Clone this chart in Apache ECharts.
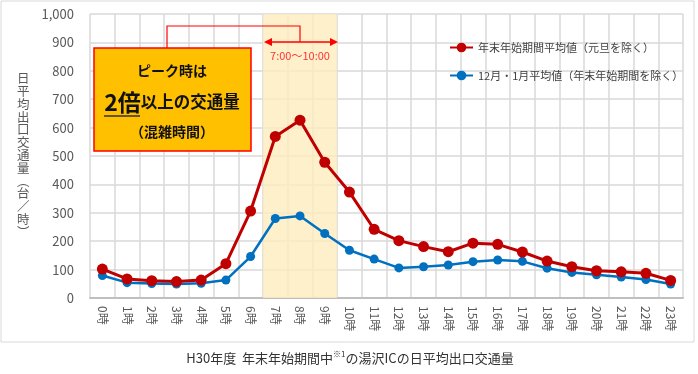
<!DOCTYPE html>
<html><head><meta charset="utf-8">
<script src="https://cdn.jsdelivr.net/npm/echarts@6/dist/echarts.min.js"></script>
<style>html,body{margin:0;padding:0;background:#fff}#c{width:698px;height:374px}</style>
</head><body><div id="c"></div>
<script>
const hours = ['0時','1時','2時','3時','4時','5時','6時','7時','8時','9時','10時','11時','12時','13時','14時','15時','16時','17時','18時','19時','20時','21時','22時','23時'];
const holidayAvg = [102,67,61,58,63,121,306,569,626,478,373,242,202,181,163,193,189,162,130,110,96,92,87,62];
const normalAvg = [79,54,51,49,52,63,146,280,289,227,168,137,106,110,116,128,134,129,105,90,82,74,65,49];
const seriesNames = ['年末年始期間平均値（元旦を除く）','12月・1月平均値（年末年始期間を除く）'];
const yTicks = [0,100,200,300,400,500,600,700,800,900,1000];
const peakStart = 7, peakEnd = 10;
const FONT = '"Noto Sans CJK JP","Noto Sans",sans-serif';

const chart = echarts.init(document.getElementById('c'));
const yLabel = '日平均出口交通量︵台／時︶'.split('').join('\n');
chart.setOption({
  animation:false,
  textStyle:{fontFamily:FONT},
  grid:{left:90,right:15,top:14,bottom:76},
  xAxis:[{type:'category',data:hours,boundaryGap:true,
    axisLine:{lineStyle:{color:'#bfbfbf',width:2}},
    axisTick:{show:false},
    splitLine:{show:true,interval:0,lineStyle:{color:'#d9d9d9',width:1.5}},
    axisLabel:{rotate:-90,interval:0,color:'#595959',fontSize:12,margin:8,fontFamily:FONT}},
    {type:'value',min:0,max:24,show:false}],
  yAxis:{type:'value',min:0,max:1000,interval:100,
    axisLine:{show:false},axisTick:{show:false},
    splitLine:{lineStyle:{color:'#d9d9d9',width:1.5}},
    axisLabel:{color:'#595959',fontSize:13,margin:16,fontFamily:FONT,
      formatter:v=>yTicks.includes(v)?v.toLocaleString('en-US'):''}},
  legend:{show:true,orient:'vertical',left:444,top:37,itemGap:17,itemWidth:23,itemHeight:12,
    textStyle:{fontSize:11,color:'#404040',fontFamily:FONT},
    data:[seriesNames[0],seriesNames[1]]},
  series:[
    {type:'line',xAxisIndex:1,data:[],silent:true,z:1,
     markArea:{silent:true,itemStyle:{color:'rgba(253,236,190,0.8)'},
       data:[[{xAxis:peakStart},{xAxis:peakEnd}]]}},
    {name:seriesNames[0],type:'line',data:holidayAvg,symbol:'circle',symbolSize:11,
     lineStyle:{color:'#C00000',width:3},itemStyle:{color:'#C00000'},z:3},
    {name:seriesNames[1],type:'line',data:normalAvg,symbol:'circle',symbolSize:9,
     lineStyle:{color:'#0070C0',width:2.5},itemStyle:{color:'#0070C0'},z:2}
  ],
  graphic:[
    {type:'rect',z:1,shape:{x:1,y:1,width:693,height:341},style:{fill:'none',stroke:'#d9d9d9',lineWidth:1},silent:true},
    {type:'text',z:5,left:17,top:72,style:{text:yLabel,fontSize:12.5,lineHeight:12.8,fill:'#595959',fontFamily:FONT,align:'center'}},
    {type:'polyline',z:5,shape:{points:[[167,48],[167,26],[300,26],[300,42]]},style:{stroke:'#FF0000',lineWidth:1.2,fill:'none'}},
    {type:'line',z:5,shape:{x1:268,y1:42,x2:334,y2:42},style:{stroke:'#FF0000',lineWidth:1.5}},
    {type:'polygon',z:5,shape:{points:[[264,42],[272,38],[272,46]]},style:{fill:'#FF0000'}},
    {type:'polygon',z:5,shape:{points:[[338,42],[330,38],[330,46]]},style:{fill:'#FF0000'}},
    {type:'text',z:5,x:300,y:56,style:{text:'7:00～10:00',fontSize:11,fill:'#FF3333',align:'center',verticalAlign:'middle',fontFamily:FONT}},
    {type:'rect',z:10,shape:{x:94,y:48,width:157,height:103},style:{fill:'#FFC000',stroke:'#FF0000',lineWidth:1.5}},
    {type:'text',z:11,x:172,y:71,style:{text:'ピーク時は',fontSize:14,fontWeight:'bold',fill:'#111',align:'center',verticalAlign:'middle',fontFamily:FONT}},
    {type:'text',z:11,x:172,y:102,style:{
      rich:{big:{fontSize:23,fontWeight:'bold',fill:'#111',fontFamily:FONT},
            mid:{fontSize:16.5,fontWeight:'bold',fill:'#111',fontFamily:FONT}},
      text:'{big|2倍}{mid|以上の交通量}',align:'center',verticalAlign:'middle'}},
    {type:'line',z:11,shape:{x1:104,y1:116,x2:140,y2:116},style:{stroke:'#333',lineWidth:1.5}},
    {type:'text',z:11,x:172,y:132,style:{text:'（混雑時間）',fontSize:14,fontWeight:'bold',fill:'#111',align:'center',verticalAlign:'middle',fontFamily:FONT}},
    {type:'text',z:5,x:350,y:358,style:{
      rich:{n:{fontSize:13,fill:'#333',fontFamily:FONT},s:{fontSize:8,fill:'#333',fontFamily:FONT,verticalAlign:'top',padding:[0,0,8,0]}},
      text:'{n|H30年度  年末年始期間中}{s|※1}{n|の湯沢ICの日平均出口交通量}',align:'center',verticalAlign:'middle'}}
  ]
});
</script></body></html>
